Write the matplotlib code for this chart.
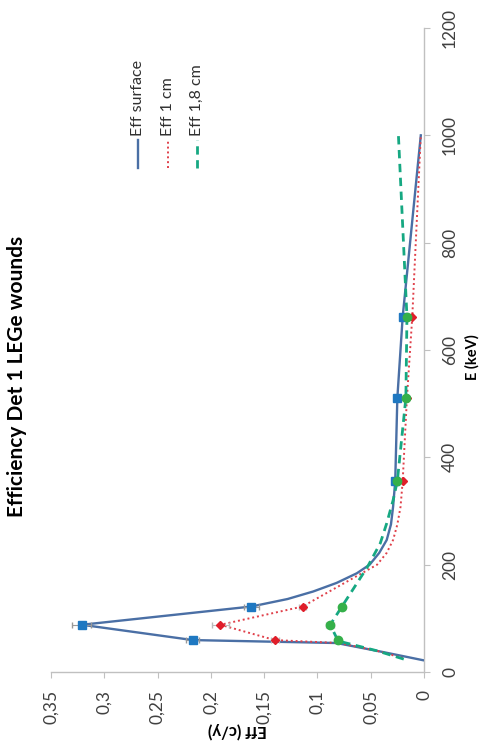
import numpy as np
import matplotlib.pyplot as plt
from matplotlib.lines import Line2D

plt.rcParams['font.family'] = ['Lato', 'DejaVu Sans']

# Measured points (energy keV, efficiency c/y)
E_pts = [59.5, 88, 122, 356, 511, 662]
surf_pts = [0.217, 0.321, 0.162, 0.027, 0.025, 0.020]
surf_err = [0.006, 0.009, 0.007, 0.001, 0.001, 0.001]
cm1_pts = [0.140, 0.191, 0.114, 0.020, 0.016, 0.011]
cm1_err = [0.004, 0.008, 0.003, 0.001, 0.001, 0.001]
cm18_pts = [0.081, 0.088, 0.077, 0.025, 0.017, 0.016]
cm18_err = [0.002, 0.004, 0.002, 0.001, 0.001, 0.001]

# Curves
E_surf = [22, 37, 54, 59.5, 88, 122, 136, 150, 166, 184, 200, 222, 246, 275, 308, 356, 511, 662, 1000]
surf_line = [0.001, 0.038, 0.082, 0.217, 0.321, 0.162, 0.128, 0.104, 0.082, 0.063, 0.051, 0.042, 0.035, 0.031,
             0.029, 0.027, 0.025, 0.020, 0.003]
E_cm1 = [26, 40, 54, 59.5, 88, 122, 200, 222, 246, 275, 308, 356, 511, 662, 1000]
cm1_line = [0.020, 0.045, 0.080, 0.140, 0.191, 0.114, 0.044, 0.035, 0.029, 0.025, 0.022, 0.020, 0.016, 0.011, 0.003]
E_cm18 = [24, 40, 55, 59.5, 88, 122, 196, 240, 277, 320, 356, 511, 662, 1000]
cm18_line = [0.019, 0.045, 0.075, 0.081, 0.088, 0.077, 0.053, 0.041, 0.035, 0.029, 0.025, 0.017, 0.016, 0.024]

names = ['Eff surface', 'Eff 1 cm', 'Eff 1,8 cm']
xticks = [0.35, 0.3, 0.25, 0.2, 0.15, 0.1, 0.05, 0]
xtick_labels = ['0,35', '0,3', '0,25', '0,2', '0,15', '0,1', '0,05', '0']
yticks = [0, 200, 400, 600, 800, 1000, 1200]

c_surf, c_surf_m = '#4A6FA5', '#1F78C1'
c_cm1, c_cm1_m = '#E0404A', '#E01E2A'
c_cm18, c_cm18_m = '#16A882', '#35B04A'

fig = plt.figure(figsize=(4.84, 7.44), dpi=100)
ax = fig.add_axes([51 / 484, 72 / 744, 373 / 484, 644 / 744])

# chart is drawn turned a quarter turn: efficiency runs horizontally
ax.plot(surf_line, E_surf, color=c_surf, lw=1.7, ls='-', zorder=3)
ax.plot(cm1_line, E_cm1, color=c_cm1, lw=1.4, ls=(0, (1, 1.5)), zorder=3)
ax.plot(cm18_line, E_cm18, color=c_cm18, lw=2.0, ls=(0, (3, 2)), zorder=3)

ax.errorbar(surf_pts, E_pts, xerr=surf_err, fmt='s', color=c_surf_m, ms=6,
            ecolor='#999999', elinewidth=0.8, capsize=2, zorder=4)
ax.errorbar(cm1_pts, E_pts, xerr=cm1_err, fmt='D', color=c_cm1_m, ms=4.5,
            ecolor='#bbbbbb', elinewidth=0.8, capsize=2, zorder=4)
ax.errorbar(cm18_pts, E_pts, xerr=cm18_err, fmt='o', color=c_cm18_m, ms=6,
            ecolor='#bbbbbb', elinewidth=0.8, capsize=2, zorder=4)

ax.set_xlim(0.35, 0)
ax.set_ylim(0, 1200)
ax.set_xticks(xticks)
ax.set_xticklabels(xtick_labels, rotation=90, va='top', ha='center')
ax.yaxis.tick_right()
ax.set_yticks(yticks)
ax.set_yticklabels([str(v) for v in yticks], rotation=90, va='center', ha='left')

for s in ['left', 'top']:
    ax.spines[s].set_visible(False)
for s in ['right', 'bottom']:
    ax.spines[s].set_color('#c0c0c0')
    ax.spines[s].set_linewidth(1.0)
ax.tick_params(axis='x', length=4, color='#c0c0c0', pad=9, labelsize=12.5, labelcolor='#404040')
ax.tick_params(axis='y', length=4, color='#c0c0c0', pad=9, labelsize=12.5, labelcolor='#404040')

ax.set_xlabel('Eff (c/y)', rotation=180, fontweight='bold', fontsize=12, va='center')
ax.xaxis.set_label_coords(0.5, -0.091)
ax.set_ylabel('E (keV)', rotation=90, fontweight='bold', fontsize=10.5, va='center', ha='center')
ax.yaxis.set_label_position('right')
ax.yaxis.set_label_coords(1.109, 0.489)

fig.text(17 / 484, 1 - 376 / 744, 'Efficiency Det 1 LEGe wounds', rotation=90,
         ha='center', va='center', fontweight='bold', fontsize=15)

# legend, turned like the rest
leg_x = [138, 168, 197]
leg_style = [(c_surf, '-', 1.7), (c_cm1, (0, (1, 1.5)), 1.4), (c_cm18, (0, (3, 2)), 2.0)]
for x, name, (c, ls, lw) in zip(leg_x, names, leg_style):
    fig.add_artist(Line2D([x / 484, x / 484], [1 - 168 / 744, 1 - 140 / 744],
                          transform=fig.transFigure, color=c, ls=ls, lw=lw))
    fig.text(x / 484, 1 - 136 / 744, name, rotation=90, ha='center', va='bottom',
             fontsize=11.5, color='#303030')

fig.savefig('out.png', dpi=100)
